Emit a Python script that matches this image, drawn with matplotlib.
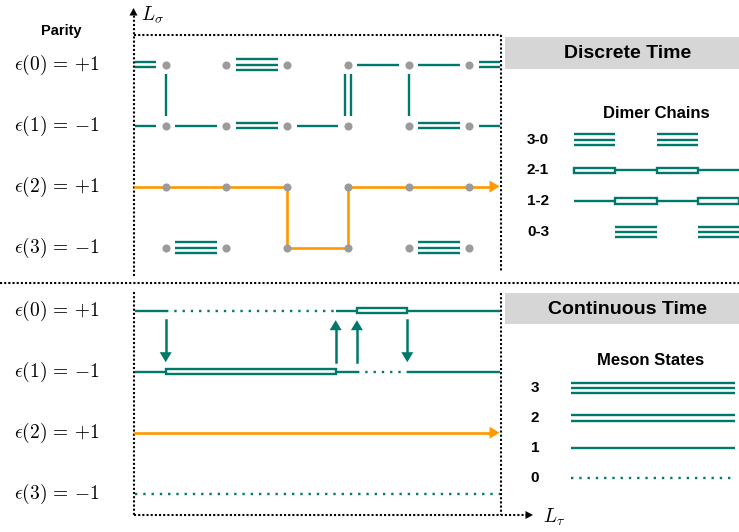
import matplotlib.pyplot as plt
from matplotlib.patches import Rectangle, Polygon

plt.rcParams['font.family'] = ['Liberation Sans', 'DejaVu Sans']
plt.rcParams['mathtext.fontset'] = 'cm'

TEAL = '#00796b'
ORANGE = '#ff9800'
GRAY = '#9b9b9b'
HEADER = '#d6d6d6'

# ---- data ----
sites = [1, 2, 3, 4, 5, 6]
levels = [0, 1, 2, 3]
parity_labels = [r'$\epsilon(0)\,=\,{+1}$', r'$\epsilon(1)\,=\,{-1}$',
                 r'$\epsilon(2)\,=\,{+1}$', r'$\epsilon(3)\,=\,{-1}$']

# discrete time: number of lines on each bond (left edge, 1-2, ..., 5-6, right edge)
bond_edges = [0.5, 1, 2, 3, 4, 5, 6, 6.5]
bonds_lvl0 = [2, 0, 3, 0, 1, 1, 2]
bonds_lvl1 = [1, 1, 2, 1, 0, 2, 1]
bonds_lvl3 = [0, 3, 0, 0, 0, 3, 0]
rung_sites = [1, 4, 5]
rung_counts = [1, 2, 1]
path_t = [0.5, 3, 3, 4, 4, 6.5]
path_lvl = [2, 2, 3, 3, 2, 2]

# continuous time: segments between jump times, 0 = dotted (vacuum)
ct_edges = [0.5, 1.0, 3.8, 4.15, 4.98, 6.5]
ct_lvl0 = [1, 0, 1, 2, 1]
ct_lvl1 = [1, 2, 1, 0, 1]
jump_t = [1.0, 3.8, 4.15, 4.98]
jump_up = [False, True, True, False]

dimer_labels = ['3-0', '2-1', '1-2', '0-3']
dimer_rows = [[3, 0, 3, 0], [2, 1, 2, 1], [1, 2, 1, 2], [0, 3, 0, 3]]
meson_labels = ['3', '2', '1', '0']
meson_counts = [3, 2, 1, 0]

# ---- layout (pixel units) ----
X0, DX = 105.0, 60.7
TOP_Y, BOT_Y, DY = 64.5, 310.7, 61.0
XL, XR = 133.5, 501.0
GAP = 9.5
OFFS = {1: [0], 2: [-2.7, 2.7], 3: [-5.3, 0, 5.3]}


def tx(t):
    return X0 + DX * t


fig = plt.figure(figsize=(7.39, 5.32), dpi=100)
ax = fig.add_axes([0, 0, 1, 1])
ax.set_xlim(0, 739)
ax.set_ylim(532, 0)
ax.axis('off')


def lines(x0, x1, y, n, closed=False, lw=1.7):
    if n == 0:
        ax.plot([x0, x1], [y, y], color=TEAL, lw=lw, ls=(0, (1, 2.5)))
        return
    if n == 2 and closed:
        ax.add_patch(Rectangle((x0, y - 2.7), x1 - x0, 5.4, fc='white', ec=TEAL, lw=lw, zorder=3))
        return
    for o in OFFS[n]:
        ax.plot([x0, x1], [y + o, y + o], color=TEAL, lw=lw, solid_capstyle='butt')


def head(tip, direction, color, length=10, width=12):
    x, y = tip
    dx, dy = direction
    bx, by = x - dx * length, y - dy * length
    px, py = -dy * width / 2, dx * width / 2
    ax.add_patch(Polygon([(x, y), (bx + px, by + py), (bx - px, by - py)],
                         closed=True, fc=color, ec='none', zorder=4))


def dotted(xs, ys):
    ax.plot(xs, ys, color='black', lw=1.5, ls=(0, (1, 1)))


# ---- frames ----
dotted([XL, XL], [276, 15])
head((XL, 8), (0, -1), 'black', length=7.5, width=8)
dotted([XL, XR], [34.5, 34.5])
dotted([XR, XR], [34.5, 272])
dotted([0, 739], [282.5, 282.5])
dotted([XL, XL], [292, 515])
dotted([XR, XR], [293, 515])
dotted([XL, 526], [515, 515])
head((533, 515), (1, 0), 'black', length=7.5, width=8)
ax.text(141, 15, r'$L_\sigma$', ha='left', va='center', fontsize=14)
ax.text(543, 517, r'$L_\tau$', ha='left', va='center', fontsize=14)

# ---- parity labels ----
ax.text(61, 31, 'Parity', ha='center', va='center', fontsize=10.5, fontweight='bold')
for lvl, lab in zip(levels, parity_labels):
    ax.text(57, TOP_Y + DY * lvl, lab, ha='center', va='center', fontsize=14)
    ax.text(57, BOT_Y + DY * lvl, lab, ha='center', va='center', fontsize=14)

# ---- discrete time panel ----
for lvl, bonds in zip([0, 1, 3], [bonds_lvl0, bonds_lvl1, bonds_lvl3]):
    y = TOP_Y + DY * lvl
    for i, n in enumerate(bonds):
        a, b = bond_edges[i], bond_edges[i + 1]
        if n == 0:
            continue
        x0 = tx(a) + (GAP if a in sites else 0)
        x1 = tx(b) - (GAP if b in sites else 0)
        lines(x0, x1, y, n)

for s, n in zip(rung_sites, rung_counts):
    for o in OFFS[n]:
        ax.plot([tx(s) + o * 1.2, tx(s) + o * 1.2],
                [TOP_Y + GAP, TOP_Y + DY - GAP - 0.5], color=TEAL, lw=1.7, solid_capstyle='butt')

px = [tx(t) for t in path_t]
py = [TOP_Y + DY * l for l in path_lvl]
px[-1] -= 9
ax.plot(px, py, color=ORANGE, lw=1.9, solid_joinstyle='miter')
head((tx(path_t[-1]), py[-1]), (1, 0), ORANGE)

for lvl in levels:
    ax.scatter([tx(s) for s in sites], [TOP_Y + DY * lvl] * len(sites),
               s=34, color=GRAY, zorder=5, linewidths=0)

# ---- continuous time panel ----
for lvl, segs in zip([0, 1], [ct_lvl0, ct_lvl1]):
    y = BOT_Y + DY * lvl
    for i, n in enumerate(segs):
        lines(tx(ct_edges[i]), tx(ct_edges[i + 1]), y, n, closed=True)

y2 = BOT_Y + DY * 2
ax.plot([tx(0.5), tx(6.5) - 9], [y2, y2], color=ORANGE, lw=1.9)
head((tx(6.5), y2), (1, 0), ORANGE)
y3 = BOT_Y + DY * 3
ax.plot([tx(0.5), tx(6.5)], [y3, y3], color=TEAL, lw=1.7, ls=(0, (1, 2.5)))

for t, up in zip(jump_t, jump_up):
    ya, yb = BOT_Y + GAP, BOT_Y + DY - GAP
    if up:
        ax.plot([tx(t), tx(t)], [yb, ya + 9], color=TEAL, lw=1.8)
        head((tx(t), ya), (0, -1), TEAL)
    else:
        ax.plot([tx(t), tx(t)], [ya, yb - 9], color=TEAL, lw=1.8)
        head((tx(t), yb), (0, 1), TEAL)

# ---- right side legends ----
ax.add_patch(Rectangle((505, 36.7), 234, 32.6, fc=HEADER, ec='none'))
ax.text(627.5, 53, 'Discrete Time', ha='center', va='center', fontsize=14, fontweight='bold')
ax.add_patch(Rectangle((505, 293), 234, 31.3, fc=HEADER, ec='none'))
ax.text(627.5, 309, 'Continuous Time', ha='center', va='center', fontsize=14, fontweight='bold')

ax.text(656, 113, 'Dimer Chains', ha='center', va='center', fontsize=12, fontweight='bold')
for k, (lab, row) in enumerate(zip(dimer_labels, dimer_rows)):
    y = 139.5 + 30.8 * k
    ax.text(538, y, lab, ha='center', va='center', fontsize=11, fontweight='bold')
    for j, n in enumerate(row):
        if n:
            lines(574 + 41.3 * j, 574 + 41.3 * (j + 1), y, n, closed=True)

ax.text(651, 360.7, 'Meson States', ha='center', va='center', fontsize=12, fontweight='bold')
for k, (lab, n) in enumerate(zip(meson_labels, meson_counts)):
    y = 388 + 30 * k
    ax.text(535, y, lab, ha='center', va='center', fontsize=11, fontweight='bold')
    lines(571, 735, y, n)

fig.savefig('out.png', dpi=100)
